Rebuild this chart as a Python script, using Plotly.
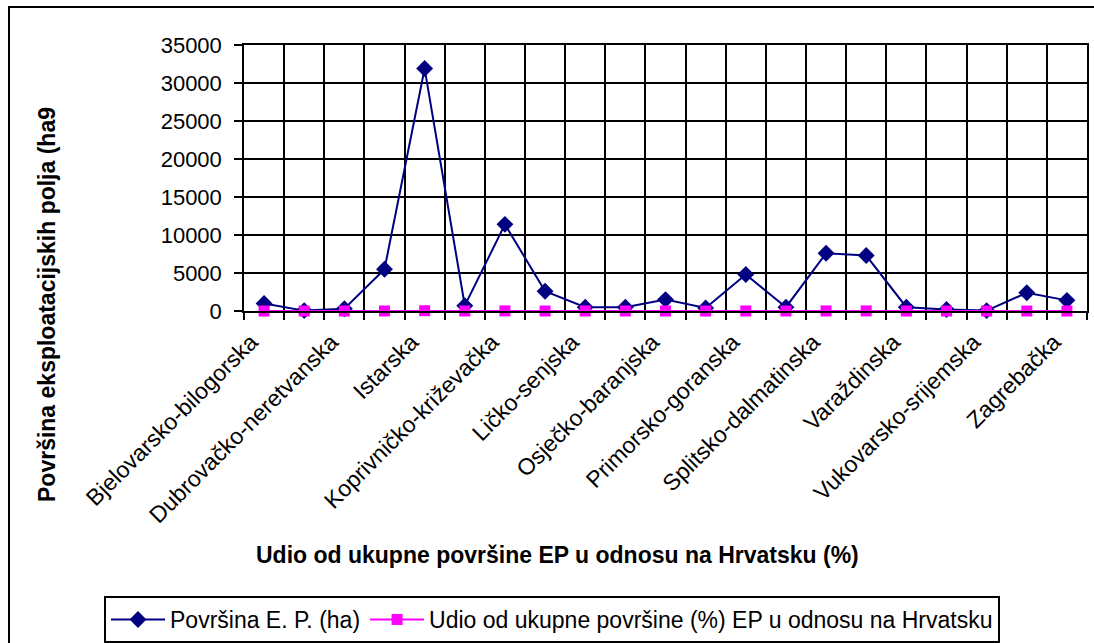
import plotly.graph_objects as go

# Counties (alphabetical order)
zupanije = [
    "Bjelovarsko-bilogorska", "Brodsko-posavska", "Dubrovačko-neretvanska",
    "Grad Zagreb", "Istarska", "Karlovačka", "Koprivničko-križevačka",
    "Krapinsko-zagorska", "Ličko-senjska", "Međimurska", "Osječko-baranjska",
    "Požeško-slavonska", "Primorsko-goranska", "Sisačko-moslavačka",
    "Splitsko-dalmatinska", "Šibensko-kninska", "Varaždinska",
    "Virovitičko-podravska", "Vukovarsko-srijemska", "Zadarska", "Zagrebačka",
]

# Area of exploitation fields (ha)
povrsina_ha = [1000, 50, 300, 5500, 31900, 700, 11400, 2600, 500, 500, 1500,
               400, 4800, 500, 7600, 7300, 500, 200, 50, 2400, 1400]

# Share of total EP area in Croatia (%)
udio_posto = [1.23, 0.06, 0.37, 6.78, 39.33, 0.86, 14.06, 3.21, 0.62, 0.62,
              1.85, 0.49, 5.92, 0.62, 9.37, 9.00, 0.62, 0.25, 0.06, 2.96, 1.73]

# Every other county name is printed on the category axis
prikazani = zupanije[::2]

idx = list(range(len(zupanije)))
FONT = "Liberation Sans, Arial, sans-serif"
FS = 23

# plot-area geometry in pixels, used to place elements given in paper units
L, T, W, H = 244, 45, 843, 266


def px(xp):
    return (xp - L) / W


def py(yp):
    return (T + H - yp) / H


fig = go.Figure()
fig.add_trace(go.Scatter(
    x=idx, y=povrsina_ha, name="Površina E. P. (ha)",
    mode="lines+markers",
    line=dict(color="#000080", width=2),
    marker=dict(symbol="diamond", size=13, color="#000080"),
    cliponaxis=False,
))
fig.add_trace(go.Scatter(
    x=idx, y=udio_posto,
    name="Udio od ukupne površine (%) EP u odnosu na Hrvatsku",
    mode="lines+markers",
    line=dict(color="#FF00FF", width=2),
    marker=dict(symbol="square", size=11, color="#FF00FF"),
    cliponaxis=False,
))
# helper trace so the label axis is rendered
fig.add_trace(go.Scatter(x=[], y=[], xaxis="x2", showlegend=False,
                         hoverinfo="skip"))

n = len(zupanije)
fig.update_layout(
    width=1094, height=643,
    margin=dict(l=L, r=1094 - L - W, t=T, b=643 - T - H, autoexpand=False),
    paper_bgcolor="white", plot_bgcolor="white",
    font=dict(family=FONT, color="black", size=FS),
    showlegend=True,
    legend=dict(
        orientation="h", xref="paper", yref="paper",
        x=px(104), xanchor="left", y=py(596), yanchor="top",
        bordercolor="black", borderwidth=2, bgcolor="white",
        font=dict(family=FONT, size=FS, color="black"),
        itemwidth=54, tracegroupgap=0,
    ),
    xaxis=dict(
        range=[-0.5, n - 0.5],
        tickmode="linear", tick0=-0.5, dtick=1,
        showticklabels=False,
        ticks="outside", ticklen=7, tickwidth=1.5, tickcolor="black",
        showgrid=True, gridcolor="black", gridwidth=1.5,
        showline=True, linecolor="black", linewidth=1.5, mirror=True,
        zeroline=False,
    ),
    xaxis2=dict(
        overlaying="x", anchor="y", side="bottom",
        range=[-0.5, n - 0.5],
        tickmode="array",
        tickvals=[zupanije.index(z) for z in prikazani],
        ticktext=prikazani,
        tickangle=-45,
        tickfont=dict(family=FONT, size=FS, color="black"),
        ticklabelstandoff=12, ticklabelshift=-13,
        ticks="", showgrid=False, showline=False, zeroline=False,
    ),
    yaxis=dict(
        range=[0, 35000], dtick=5000, tickformat="d",
        ticks="outside", ticklen=8, tickwidth=1.5, tickcolor="black",
        ticklabelstandoff=8,
        tickfont=dict(family=FONT, size=22, color="black"),
        showgrid=True, gridcolor="black", gridwidth=1.5,
        showline=True, linecolor="black", linewidth=1.5, mirror=True,
        zeroline=False,
    ),
    annotations=[
        dict(text="<b>Udio od ukupne površine EP u odnosu na Hrvatsku (%)</b>",
             xref="paper", yref="paper", x=px(557), y=py(555),
             xanchor="center", yanchor="middle", showarrow=False,
             font=dict(family=FONT, size=FS, color="black")),
        dict(text="<b>Površina eksploatacijskih polja (ha9</b>",
             xref="paper", yref="paper", x=px(47), y=py(305),
             xanchor="center", yanchor="middle", showarrow=False,
             textangle=-90,
             font=dict(family=FONT, size=FS, color="black")),
    ],
)

# Outer chart frame
fig.add_shape(type="rect", xref="paper", yref="paper",
              x0=px(9), x1=px(1100), y0=py(650), y1=py(7),
              line=dict(color="black", width=2), fillcolor="rgba(0,0,0,0)",
              layer="below")

fig.write_html("out.html")
